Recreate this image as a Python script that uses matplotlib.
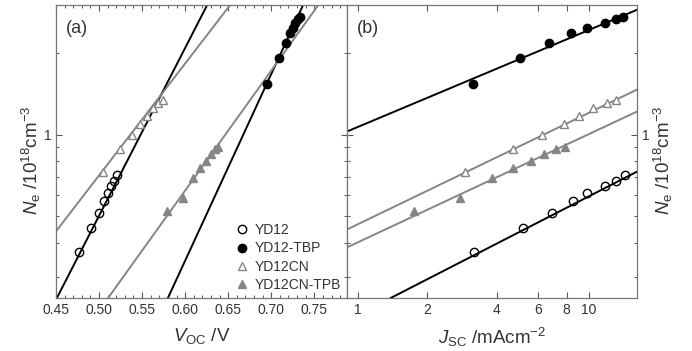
import matplotlib
matplotlib.use("Agg")
import matplotlib.pyplot as plt
from matplotlib.ticker import FixedLocator, NullFormatter, MultipleLocator, FixedFormatter, LogLocator

plt.rcParams['font.family'] = ['Liberation Sans', 'DejaVu Sans']
plt.rcParams['mathtext.fontset'] = 'custom'
plt.rcParams['mathtext.rm'] = 'Liberation Sans'
plt.rcParams['mathtext.it'] = 'Liberation Sans:italic'

# ---- data: electron density vs Voc (a) and Jsc (b) ----
ne_YD12 = [0.368, 0.451, 0.513, 0.567, 0.607, 0.644, 0.672, 0.707]
voc_YD12 = [0.477, 0.491, 0.500, 0.506, 0.510, 0.514, 0.517, 0.521]
jsc_YD12 = [3.19, 5.19, 6.93, 8.53, 9.80, 11.7, 13.1, 14.3]

ne_TBP = [1.54, 1.92, 2.18, 2.37, 2.47, 2.58, 2.67, 2.72]
voc_TBP = [0.695, 0.709, 0.717, 0.722, 0.725, 0.728, 0.731, 0.733]
jsc_TBP = [3.16, 5.04, 6.72, 8.36, 9.80, 11.7, 13.1, 14.0]

ne_CN = [0.725, 0.888, 1.00, 1.098, 1.175, 1.257, 1.311, 1.345]
voc_CN = [0.505, 0.524, 0.538, 0.548, 0.556, 0.563, 0.569, 0.574]
jsc_CN = [2.92, 4.70, 6.27, 7.80, 9.06, 10.4, 11.96, 13.1]

ne_CNTPB = [0.521, 0.582, 0.689, 0.756, 0.796, 0.851, 0.888, 0.903]
voc_CNTPB = [0.579, 0.597, 0.609, 0.617, 0.624, 0.630, 0.635, 0.638]
jsc_CNTPB = [1.76, 2.78, 3.82, 4.70, 5.62, 6.40, 7.20, 7.88]

# fitted lines (endpoints)
fitA_voc_YD12, fitA_ne_YD12 = [0.451, 0.6256], [0.25, 3.0]
fitA_voc_TBP, fitA_ne_TBP = [0.580, 0.737], [0.25, 3.0]
fitA_voc_CN, fitA_ne_CN = [0.45, 0.6523], [0.44, 3.0]
fitA_voc_CNTPB, fitA_ne_CNTPB = [0.5105, 0.7547], [0.25, 3.0]

fitB_jsc_YD12, fitB_ne_YD12 = [1.39, 16.1], [0.25, 0.73]
fitB_jsc_TBP, fitB_ne_TBP = [0.9, 16.1], [1.026, 2.88]
fitB_jsc_CN, fitB_ne_CN = [0.9, 16.1], [0.447, 1.464]
fitB_jsc_CNTPB, fitB_ne_CNTPB = [0.9, 16.1], [0.384, 1.215]

labels = ['YD12', 'YD12-TBP', 'YD12CN', 'YD12CN-TPB']
xticks_a = [0.45, 0.50, 0.55, 0.60, 0.65, 0.70, 0.75]
xticks_b = [1, 2, 4, 6, 8, 10]

BLACK = 'black'
GREY = '#858585'
TXT = '#333333'

fig = plt.figure(figsize=(6.92, 3.51), dpi=100)
axA = fig.add_axes([56/692, 1-298/351, 291/692, 293/351])
axB = fig.add_axes([347/692, 1-298/351, 290/692, 293/351])

lw = 1.4
ms = 6.0
styles = [
    dict(marker='o', mfc='none', mec=BLACK, color=BLACK),
    dict(marker='o', mfc=BLACK, mec=BLACK, color=BLACK),
    dict(marker='^', mfc='white', mec=GREY, color=GREY),
    dict(marker='^', mfc=GREY, mec=GREY, color=GREY),
]

seriesA = [(voc_YD12, ne_YD12), (voc_TBP, ne_TBP), (voc_CN, ne_CN), (voc_CNTPB, ne_CNTPB)]
fitsA = [(fitA_voc_YD12, fitA_ne_YD12), (fitA_voc_TBP, fitA_ne_TBP),
         (fitA_voc_CN, fitA_ne_CN), (fitA_voc_CNTPB, fitA_ne_CNTPB)]
seriesB = [(jsc_YD12, ne_YD12), (jsc_TBP, ne_TBP), (jsc_CN, ne_CN), (jsc_CNTPB, ne_CNTPB)]
fitsB = [(fitB_jsc_YD12, fitB_ne_YD12), (fitB_jsc_TBP, fitB_ne_TBP),
         (fitB_jsc_CN, fitB_ne_CN), (fitB_jsc_CNTPB, fitB_ne_CNTPB)]

handles = []
for st, (x, y), (fx, fy), lab in zip(styles, seriesA, fitsA, labels):
    axA.plot(fx, fy, '-', color=st['color'], lw=lw, zorder=2)
    h, = axA.plot(x, y, linestyle='none', marker=st['marker'], mfc=st['mfc'],
                  mec=st['mec'], ms=ms, mew=1.0, zorder=3, label=lab)
    handles.append(h)
for st, (x, y), (fx, fy) in zip(styles, seriesB, fitsB):
    axB.plot(fx, fy, '-', color=st['color'], lw=lw, zorder=2)
    axB.plot(x, y, linestyle='none', marker=st['marker'], mfc=st['mfc'],
             mec=st['mec'], ms=ms, mew=1.0, zorder=3)

for ax in (axA, axB):
    ax.set_yscale('log')
    ax.set_ylim(0.25, 3.0)
    ax.yaxis.set_major_locator(FixedLocator([1]))
    ax.yaxis.set_minor_locator(LogLocator(base=10, subs=range(2, 10)))
    ax.yaxis.set_minor_formatter(NullFormatter())
    ax.tick_params(which='both', direction='in', top=True, right=True, labelsize=10,
                   color='#555555', labelcolor=TXT)
    ax.tick_params(which='major', length=4, width=0.8)
    ax.tick_params(which='minor', length=2.5, width=0.7)
    for s in ax.spines.values():
        s.set_color('#777777')
        s.set_linewidth(0.9)

axA.set_xlim(0.45, 0.788)
axA.xaxis.set_major_locator(FixedLocator(xticks_a))
axA.xaxis.set_major_formatter(FixedFormatter(['%.2f' % v for v in xticks_a]))
axA.xaxis.set_minor_locator(MultipleLocator(0.01))
axA.yaxis.set_major_formatter(FixedFormatter(['1']))

axB.set_xscale('log')
axB.set_xlim(0.9, 16.1)
axB.xaxis.set_major_locator(FixedLocator(xticks_b))
axB.xaxis.set_major_formatter(FixedFormatter([str(v) for v in xticks_b]))
axB.xaxis.set_minor_locator(FixedLocator([]))
axB.xaxis.set_minor_formatter(NullFormatter())
axB.yaxis.set_major_formatter(FixedFormatter(['1']))
axB.tick_params(axis='y', which='both', labelleft=False, labelright=True)

ylab = r'$N_{\rm e}$ /10$^{18}$cm$^{-3}$'
axA.set_ylabel(ylab, fontsize=13.5, color=TXT)
axA.yaxis.set_label_coords(-0.045, 0.47)
axB.yaxis.set_label_position('right')
axB.set_ylabel(ylab, fontsize=13.5, color=TXT, rotation=90)
axB.yaxis.set_label_coords(1.05, 0.47)

axA.set_xlabel(r'$V_{\rm OC}$ /V', fontsize=13.5, color=TXT)
axA.xaxis.set_label_coords(0.5, -0.095)
axB.set_xlabel(r'$J_{\rm SC}$ /mAcm$^{-2}$', fontsize=13.5, color=TXT)
axB.xaxis.set_label_coords(0.5, -0.095)

axA.text(0.035, 0.95, '(a)', transform=axA.transAxes, fontsize=13, va='top', color=TXT)
axB.text(0.035, 0.95, '(b)', transform=axB.transAxes, fontsize=13, va='top', color=TXT)

axA.legend(handles=handles, loc='lower right', bbox_to_anchor=(1.0, 0.0), frameon=False,
           fontsize=10, handletextpad=0.4, labelspacing=0.3, borderaxespad=0.05,
           handlelength=1.0, labelcolor=TXT)

fig.savefig('out.png', dpi=100)
